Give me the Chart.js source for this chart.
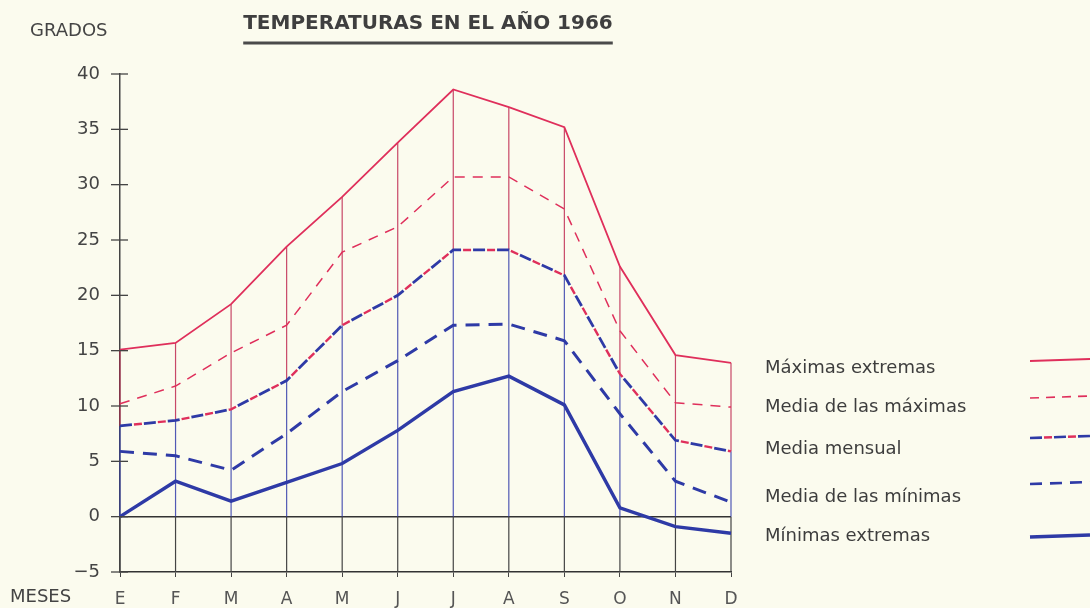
<!DOCTYPE html>
<html>
<head>
<meta charset="utf-8">
<script src="https://cdn.jsdelivr.net/npm/chart.js@4.4.0/dist/chart.umd.min.js"></script>
<style>
html, body { margin: 0; background: #fbfbee; }
#c { display: block; }
</style>
</head>
<body>
<canvas id="c" width="1090" height="608"></canvas>
<script>
// datos
var meses = ['E', 'F', 'M', 'A', 'M', 'J', 'J', 'A', 'S', 'O', 'N', 'D'];
var maximasExtremas = [15.1, 15.7, 19.2, 24.4, 28.9, 33.8, 38.6, 37.0, 35.2, 22.6, 14.6, 13.9];
var mediaMaximas = [10.2, 11.8, 14.8, 17.3, 23.9, 26.2, 30.7, 30.7, 27.8, 16.8, 10.3, 9.9];
var mediaMensual = [8.2, 8.7, 9.7, 12.3, 17.3, 20.0, 24.1, 24.1, 21.8, 12.9, 6.9, 5.9];
var mediaMinimas = [5.9, 5.5, 4.2, 7.5, 11.3, 14.1, 17.3, 17.4, 15.9, 9.3, 3.2, 1.3];
var minimasExtremas = [0.0, 3.2, 1.4, 3.1, 4.8, 7.8, 11.3, 12.7, 10.1, 0.8, -0.9, -1.5];
var yTicks = [-5, 0, 5, 10, 15, 20, 25, 30, 35, 40];
var leyenda = ['Máximas extremas', 'Media de las máximas', 'Media mensual', 'Media de las mínimas', 'Mínimas extremas'];

var ROJO = '#df2f5b';
var AZUL = '#2e3aa6';
var FUENTE = '"DejaVu Sans", sans-serif';

var extras = {
    id: 'extras',
    beforeDatasetsDraw: function (chart) {
        var ctx = chart.ctx, x = chart.scales.x, y = chart.scales.y;
        ctx.save();
        ctx.lineWidth = 1.2;
        for (var i = 0; i < meses.length; i++) {
            var px = x.getPixelForValue(i);
            var tramos = [
                [maximasExtremas[i], mediaMensual[i], 'rgba(190,40,80,0.85)'],
                [mediaMensual[i], 0, 'rgba(50,60,170,0.85)'],
                [0, -5, '#444']
            ];
            tramos.forEach(function (t) {
                ctx.strokeStyle = t[2];
                ctx.beginPath();
                ctx.moveTo(px, y.getPixelForValue(t[0]));
                ctx.lineTo(px, y.getPixelForValue(t[1]));
                ctx.stroke();
            });
        }
        ctx.restore();
    },
    afterDraw: function (chart) {
        var ctx = chart.ctx, y = chart.scales.y, area = chart.chartArea;
        ctx.save();
        // cruces de las marcas del eje
        ctx.strokeStyle = '#444';
        ctx.lineWidth = 1.3;
        yTicks.forEach(function (v) {
            var py = y.getPixelForValue(v);
            ctx.beginPath();
            ctx.moveTo(area.left - 9, py);
            ctx.lineTo(area.left + 8, py);
            ctx.stroke();
        });

        // titulo subrayado
        ctx.fillStyle = '#3f3f3f';
        ctx.font = 'bold 20px ' + FUENTE;
        ctx.textAlign = 'center';
        ctx.textBaseline = 'middle';
        var titulo = 'TEMPERATURAS EN EL AÑO 1966';
        ctx.fillText(titulo, 428, 24);
        var w = ctx.measureText(titulo).width;
        ctx.strokeStyle = '#4a4a4a';
        ctx.lineWidth = 3;
        ctx.beginPath();
        ctx.moveTo(428 - w / 2, 43);
        ctx.lineTo(428 + w / 2, 43);
        ctx.stroke();

        ctx.font = '18px ' + FUENTE;
        ctx.textAlign = 'left';
        ctx.fillStyle = '#444';
        ctx.fillText('GRADOS', 30, 31);
        ctx.fillText('MESES', 10, 597);

        // leyenda
        var textoY = [368, 407, 449, 497, 536];
        var lineaY = [361, 398, 438, 484, 537];
        ctx.font = '18px ' + FUENTE;
        for (var i = 0; i < leyenda.length; i++) {
            ctx.fillStyle = '#3d3d3d';
            ctx.fillText(leyenda[i], 765, textoY[i]);
        }
        var muestras = [
            [[ROJO, 1.8, [], 0]],
            [[ROJO, 1.6, [9, 7], 0]],
            [[AZUL, 2.6, [12, 12], 0], [ROJO, 2.6, [8, 16], -14]],
            [[AZUL, 2.6, [12, 8], 0]],
            [[AZUL, 3.4, [], 0]]
        ];
        muestras.forEach(function (m, i) {
            m.forEach(function (s) {
                ctx.strokeStyle = s[0];
                ctx.lineWidth = s[1];
                ctx.setLineDash(s[2]);
                ctx.lineDashOffset = s[3];
                ctx.beginPath();
                ctx.moveTo(1030, lineaY[i]);
                ctx.lineTo(1090, lineaY[i] - 2);
                ctx.stroke();
            });
        });
        ctx.restore();
    }
};

var ctx = document.getElementById('c').getContext('2d');
var chart = new Chart(ctx, {
    type: 'line',
    data: {
        labels: meses,
        datasets: [{
            label: leyenda[0],
            data: maximasExtremas,
            borderColor: ROJO,
            borderWidth: 1.8
        }, {
            label: leyenda[1],
            data: mediaMaximas,
            borderColor: ROJO,
            borderWidth: 1.5,
            borderDash: [10, 8]
        }, {
            label: leyenda[2],
            data: mediaMensual,
            borderColor: AZUL,
            borderWidth: 2.8,
            borderDash: [12, 12]
        }, {
            label: leyenda[2] + ' (rojo)',
            data: mediaMensual,
            borderColor: ROJO,
            borderWidth: 2.4,
            borderDash: [8, 16],
            borderDashOffset: -14
        }, {
            label: leyenda[3],
            data: mediaMinimas,
            borderColor: AZUL,
            borderWidth: 3,
            borderDash: [14, 9]
        }, {
            label: leyenda[4],
            data: minimasExtremas,
            borderColor: AZUL,
            borderWidth: 3.4
        }]
    },
    options: {
        responsive: false,
        animation: false,
        elements: { point: { radius: 0 }, line: { tension: 0 } },
        layout: { padding: { top: 74, right: 359, left: 0, bottom: 0 } },
        plugins: {
            legend: { display: false },
            tooltip: { enabled: false }
        },
        scales: {
            x: {
                offset: false,
                afterFit: function (s) { s.height = 36; },
                border: { color: '#333', width: 1.5 },
                grid: { drawOnChartArea: false, tickLength: 5, tickColor: '#444' },
                ticks: { color: '#555', font: { size: 17, family: FUENTE }, padding: 12, maxRotation: 0 }
            },
            y: {
                min: -5,
                max: 40,
                afterFit: function (s) { s.width = 120; },
                afterBuildTicks: function (s) {
                    s.ticks = yTicks.map(function (v) { return { value: v }; });
                },
                border: { color: '#444', width: 1.5 },
                grid: {
                    drawTicks: false,
                    color: function (c) { return c.tick && c.tick.value === 0 ? '#333' : 'rgba(0,0,0,0)'; },
                    lineWidth: 1.5
                },
                ticks: {
                    color: '#444',
                    font: { size: 18, family: FUENTE },
                    padding: 20,
                    callback: function (v) { return v < 0 ? '\u2212' + Math.abs(v) : v; }
                }
            }
        }
    },
    plugins: [extras]
});
</script>
</body>
</html>
